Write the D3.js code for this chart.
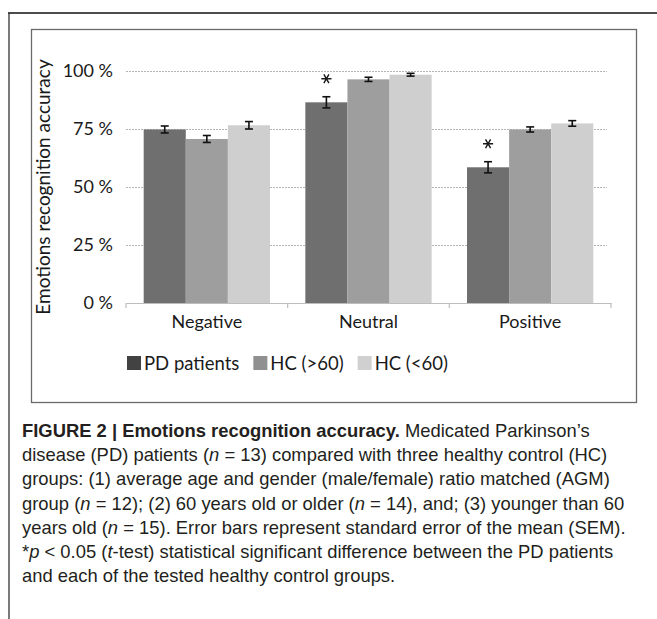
<!DOCTYPE html>
<html>
<head>
<meta charset="utf-8">
<script src="https://cdn.jsdelivr.net/npm/d3@7"></script>
<style>
  body { margin: 0; background: #fff; }
  svg { display: block; }
</style>
</head>
<body>
<div id="chart"></div>
<script>
// Emotions recognition accuracy, grouped bars with SEM
var categories = ['Negative', 'Neutral', 'Positive'];
var groups = ['PD patients', 'HC (>60)', 'HC (<60)'];

var pdMeans      = [74.8, 86.5, 58.5];
var pdSem        = [1.5, 2.4, 2.4];
var hcOldMeans   = [70.7, 96.4, 74.8];
var hcOldSem     = [1.5, 0.9, 1.1];
var hcYoungMeans = [76.6, 98.4, 77.4];
var hcYoungSem   = [1.6, 0.6, 1.2];

// * p < 0.05, PD vs every HC group
var significant = ['Neutral', 'Positive'];

var yTicks = [0, 25, 50, 75, 100];

var captionLines = [
    [['FIGURE 2 | Emotions recognition accuracy.', 'b'], [' Medicated Parkinson\u2019s', '']],
    [['disease (PD) patients (', ''], ['n', 'i'], [' = 13) compared with three healthy control (HC)', '']],
    [['groups: (1) average age and gender (male/female) ratio matched (AGM)', '']],
    [['group (', ''], ['n', 'i'], [' = 12); (2) 60 years old or older (', ''], ['n', 'i'], [' = 14), and; (3) younger than 60', '']],
    [['years old (', ''], ['n', 'i'], [' = 15). Error bars represent standard error of the mean (SEM).', '']],
    [['*', ''], ['p', 'i'], [' < 0.05 (', ''], ['t', 'i'], ['-test) statistical significant difference between the PD patients', '']],
    [['and each of the tested healthy control groups.', '']]
];

(function() {
    'use strict';

    var width = 657, height = 619;
    var chartFont = 'Lato, "Open Sans", sans-serif';
    var capFont = '"Liberation Sans", Arial, sans-serif';

    var barColors    = ['#6f6f6f', '#9e9e9e', '#cfcfcf'];
    var legendColors = ['#424242', '#909090', '#d0d0d0'];

    var series = [
        {name: groups[0], means: pdMeans,      sem: pdSem},
        {name: groups[1], means: hcOldMeans,   sem: hcOldSem},
        {name: groups[2], means: hcYoungMeans, sem: hcYoungSem}
    ];

    var rows = [];
    categories.forEach(function(c, i) {
        series.forEach(function(s, j) {
            rows.push({cat: c, group: s.name, gi: j, mean: s.means[i], sem: s.sem[i]});
        });
    });

    var svg = d3.select('#chart')
      .append('svg')
        .attr('width', width)
        .attr('height', height);

    svg.append('rect')
        .attr('width', width)
        .attr('height', height)
        .attr('fill', 'white');

    // page frame (top + left rules)
    svg.append('line')
        .attr('x1', 8).attr('x2', width)
        .attr('y1', 13).attr('y2', 13)
        .attr('stroke', '#111').attr('stroke-width', 1.5);
    svg.append('line')
        .attr('x1', 9).attr('x2', 9)
        .attr('y1', 13).attr('y2', height)
        .attr('stroke', '#333').attr('stroke-width', 1.3);

    // chart box
    svg.append('rect')
        .attr('x', 31.5).attr('y', 29.5)
        .attr('width', 605).attr('height', 373)
        .attr('fill', 'none')
        .attr('stroke', '#6a6a6a')
        .attr('stroke-width', 1.3);

    var x0 = d3.scaleBand()
        .domain(categories)
        .range([126, 611])
        .paddingInner(0)
        .paddingOuter(0);

    var x1 = d3.scaleBand()
        .domain(groups)
        .range([0, x0.bandwidth()])
        .paddingInner(0)
        .paddingOuter(0.42);

    var y = d3.scaleLinear()
        .domain([0, 100])
        .range([303, 71]);

    var color = d3.scaleOrdinal().domain(groups).range(barColors);

    // y axis + dotted grid
    var yAxis = svg.append('g')
        .attr('transform', 'translate(126,0)')
        .call(d3.axisLeft(y)
            .tickValues(yTicks)
            .tickSize(-(607 - 126))
            .tickPadding(13)
            .tickFormat(function(d) { return d + ' %'; }));
    yAxis.select('.domain').remove();
    yAxis.selectAll('.tick line')
        .attr('stroke', '#b5b5b5')
        .attr('stroke-dasharray', '2,1')
        .attr('stroke-opacity', function(d) { return d === 0 ? 0 : 1; });
    yAxis.selectAll('.tick text')
        .attr('font-family', chartFont)
        .attr('font-size', 18)
        .attr('fill', '#1a1a1a');

    // bars
    svg.append('g').selectAll('rect')
        .data(rows)
        .join('rect')
          .attr('x', function(d) { return x0(d.cat) + x1(d.group); })
          .attr('y', function(d) { return y(d.mean); })
          .attr('width', x1.bandwidth())
          .attr('height', function(d) { return y(0) - y(d.mean); })
          .attr('fill', function(d) { return color(d.group); });

    // x axis
    var xAxis = svg.append('g')
        .attr('transform', 'translate(0,' + y(0) + ')')
        .call(d3.axisBottom(x0).tickSize(0).tickPadding(12));
    xAxis.select('.domain')
        .attr('stroke', '#bdbdbd')
        .attr('stroke-width', 1.2);
    xAxis.selectAll('.tick text')
        .attr('font-family', chartFont)
        .attr('font-size', 18)
        .attr('fill', '#1a1a1a');

    var edges = categories.map(function(c) { return x0(c); })
        .concat([x0(categories[categories.length - 1]) + x0.bandwidth()]);
    svg.append('g').selectAll('line')
        .data(edges)
        .join('line')
          .attr('x1', function(d) { return d; })
          .attr('x2', function(d) { return d; })
          .attr('y1', y(0))
          .attr('y2', y(0) + 5)
          .attr('stroke', '#bdbdbd')
          .attr('stroke-width', 1.2);

    // error bars
    var eb = svg.append('g')
        .attr('stroke', '#111')
        .attr('stroke-width', 1.6)
        .selectAll('g')
        .data(rows)
        .join('g')
          .attr('transform', function(d) {
              return 'translate(' + (x0(d.cat) + x1(d.group) + x1.bandwidth() / 2) + ',0)';
          });
    eb.append('line')
        .attr('y1', function(d) { return y(d.mean + d.sem); })
        .attr('y2', function(d) { return y(d.mean - d.sem); });
    eb.append('line')
        .attr('x1', -4).attr('x2', 4)
        .attr('y1', function(d) { return y(d.mean + d.sem); })
        .attr('y2', function(d) { return y(d.mean + d.sem); });
    eb.append('line')
        .attr('x1', -4).attr('x2', 4)
        .attr('y1', function(d) { return y(d.mean - d.sem); })
        .attr('y2', function(d) { return y(d.mean - d.sem); });

    // significance stars on PD bars
    var star = d3.symbol().type(d3.symbolAsterisk).size(72);
    svg.append('g').selectAll('path')
        .data(rows.filter(function(d) { return d.gi === 0 && significant.indexOf(d.cat) >= 0; }))
        .join('path')
          .attr('transform', function(d) {
              return 'translate(' + (x0(d.cat) + x1(d.group) + x1.bandwidth() / 2) + ',' +
                     (y(d.mean + d.sem) - 18) + ') rotate(90)';
          })
          .attr('d', star)
          .attr('fill', 'none')
          .attr('stroke', '#1a1a1a')
          .attr('stroke-width', 1.4);

    // y axis title
    svg.append('text')
        .attr('transform', 'translate(50,' + 187 + ') rotate(-90)')
        .attr('text-anchor', 'middle')
        .attr('font-family', chartFont)
        .attr('font-size', 19)
        .attr('fill', '#1a1a1a')
        .text('Emotions recognition accuracy');

    // legend
    var lx = 127;
    var legend = svg.append('g');
    groups.forEach(function(g, i) {
        legend.append('rect')
            .attr('x', lx).attr('y', 356)
            .attr('width', 14).attr('height', 14)
            .attr('fill', legendColors[i]);
        var t = legend.append('text')
            .attr('x', lx + 17).attr('y', 369.5)
            .attr('font-family', chartFont)
            .attr('font-size', 18.5)
            .attr('fill', '#1a1a1a')
            .text(g);
        lx = lx + 17 + t.node().getComputedTextLength() + 14;
    });

    // caption
    var cap = svg.append('g')
        .attr('font-family', capFont)
        .attr('font-size', 18.4)
        .attr('fill', '#231f20');
    captionLines.forEach(function(line, i) {
        var t = cap.append('text')
            .attr('x', 22)
            .attr('y', 437 + i * 24.2);
        line.forEach(function(seg) {
            t.append('tspan')
                .attr('font-weight', seg[1] === 'b' ? 'bold' : null)
                .attr('font-style', seg[1] === 'i' ? 'italic' : null)
                .text(seg[0]);
        });
    });
}());
</script>
</body>
</html>
